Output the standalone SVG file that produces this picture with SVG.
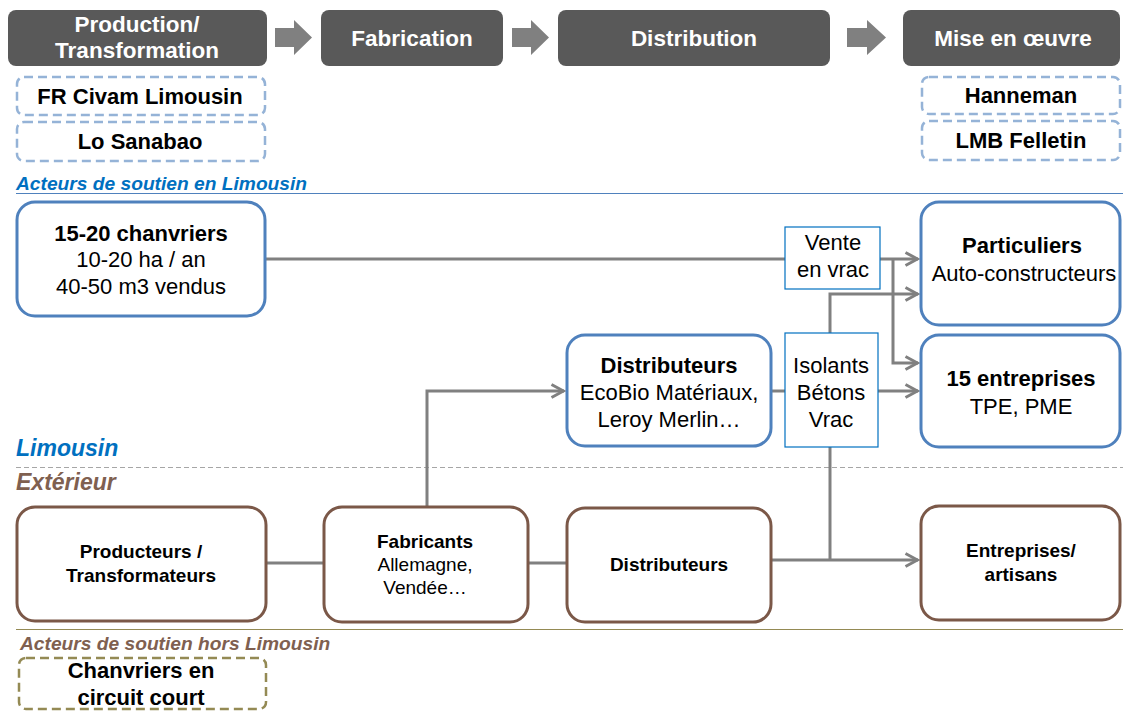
<svg xmlns="http://www.w3.org/2000/svg" width="1123" height="711" viewBox="0 0 1123 711">
<style>
text{font-family:"Liberation Sans",Arial,sans-serif;text-anchor:middle}
.hdr rect{fill:#595959}
.hdr text{fill:#fff;font-weight:bold;font-size:22.5px}
.harrow{fill:#808080}
.sup rect{fill:#fff;stroke:#95b3d7;stroke-width:2.5;stroke-dasharray:9 5}
.sup text{font-weight:bold;font-size:22px;fill:#000}
.lim rect{fill:#fff;stroke:#4f81bd;stroke-width:3}
.ext rect{fill:#fff;stroke:#7b5848;stroke-width:3}
.lbl rect{fill:#fff;stroke:#0070c0;stroke-width:1.2}
.t19{font-size:22px;fill:#000}
.b19{font-size:22px;font-weight:bold;fill:#000}
.t16{font-size:19px;fill:#000}
.b16{font-size:19px;font-weight:bold;fill:#000}
.conn path{fill:none;stroke:#808080;stroke-width:3}
.sec{font-style:italic;font-weight:bold;text-anchor:start}
</style>
<defs>
<marker id="arr" viewBox="0 0 16 16" refX="14.5" refY="8" markerWidth="16" markerHeight="16" markerUnits="userSpaceOnUse" orient="auto">
<path d="M2,1.5 L14,8 L2,14.5" fill="none" stroke="#808080" stroke-width="3"/>
</marker>
</defs>

<!-- headers -->
<g id="h1" class="hdr"><rect x="8" y="10" width="259" height="56" rx="8"/><text x="137" y="32">Production/</text><text x="137" y="58">Transformation</text></g>
<path class="harrow" d="M275,28 H294 V20 L312,37.5 L294,55 V47 H275 Z"/>
<g id="h2" class="hdr"><rect x="321" y="10" width="182" height="56" rx="8"/><text x="412" y="46">Fabrication</text></g>
<path class="harrow" d="M512,28 H531 V20 L549,37.5 L531,55 V47 H512 Z"/>
<g id="h3" class="hdr"><rect x="558" y="10" width="272" height="56" rx="8"/><text x="694" y="46">Distribution</text></g>
<path class="harrow" d="M847,28 H867 V20 L886,37.5 L867,55 V47 H847 Z"/>
<g id="h4" class="hdr"><rect x="903" y="10" width="217" height="56" rx="8"/><text x="1013" y="46">Mise en œuvre</text></g>

<!-- support actors -->
<g id="s1" class="sup"><rect x="17" y="77" width="248" height="38" rx="7"/><text x="140" y="104">FR Civam Limousin</text></g>
<g id="s2" class="sup"><rect x="17" y="122" width="248" height="39" rx="7"/><text x="140" y="149">Lo Sanabao</text></g>
<g id="s3" class="sup"><rect x="922" y="77" width="198" height="37" rx="7"/><text x="1021" y="103">Hanneman</text></g>
<g id="s4" class="sup"><rect x="922" y="121" width="198" height="39" rx="7"/><text x="1021" y="148">LMB Felletin</text></g>

<text class="sec" x="16" y="190" font-size="19.2" fill="#0070c0">Acteurs de soutien en Limousin</text>
<line x1="16" y1="193.5" x2="1123" y2="193.5" stroke="#4f81bd" stroke-width="1.2"/>

<text class="sec" x="16" y="456" font-size="23" fill="#0070c0">Limousin</text>
<line x1="16" y1="467.5" x2="1123" y2="467.5" stroke="#a6a6a6" stroke-width="1" stroke-dasharray="5 3"/>
<text class="sec" x="16" y="490" font-size="23" fill="#7f6050">Extérieur</text>

<line x1="16" y1="629.5" x2="1123" y2="629.5" stroke="#948a54" stroke-width="1.2"/>
<text class="sec" x="20" y="650" font-size="19.2" fill="#7f6050">Acteurs de soutien hors Limousin</text>

<!-- connectors -->
<g id="connectors" class="conn">
<path d="M265,259 H918" marker-end="url(#arr)"/>
<path d="M893,259 V363 H918" marker-end="url(#arr)"/>
<path d="M830,333 V294 H918" marker-end="url(#arr)"/>
<path d="M771,391 H785"/>
<path d="M878,391 H918" marker-end="url(#arr)"/>
<path d="M830,447 V560"/>
<path d="M427,507 V391 H564" marker-end="url(#arr)"/>
<path d="M266,563 H323"/>
<path d="M528,563 H567"/>
<path d="M771,560 H918" marker-end="url(#arr)"/>
</g>

<!-- label boxes -->
<g id="l1" class="lbl"><rect x="785" y="227" width="95" height="62"/><text class="t19" x="833" y="250">Vente</text><text class="t19" x="833" y="277">en vrac</text></g>
<g id="l2" class="lbl"><rect x="785" y="333" width="93" height="114"/><text class="t19" x="831" y="373">Isolants</text><text class="t19" x="831" y="400">Bétons</text><text class="t19" x="831" y="427">Vrac</text></g>

<!-- Limousin nodes -->
<g id="n1" class="lim"><rect x="17" y="202" width="248" height="114" rx="18"/><text class="b19" x="141" y="241">15-20 chanvriers</text><text class="t19" x="141" y="267">10-20 ha / an</text><text class="t19" x="141" y="294">40-50 m3 vendus</text></g>
<g id="n2" class="lim"><rect x="921" y="202" width="199" height="123" rx="18"/><text class="b19" x="1022" y="253">Particuliers</text><text class="t19" x="1024" y="281">Auto-constructeurs</text></g>
<g id="n3" class="lim"><rect x="567" y="335" width="204" height="111" rx="18"/><text class="b19" x="669" y="373">Distributeurs</text><text class="t19" x="669" y="400">EcoBio Matériaux,</text><text class="t19" x="669" y="427">Leroy Merlin…</text></g>
<g id="n4" class="lim"><rect x="921" y="335" width="199" height="112" rx="18"/><text class="b19" x="1021" y="386">15 entreprises</text><text class="t19" x="1021" y="414">TPE, PME</text></g>

<!-- external nodes -->
<g id="e1" class="ext"><rect x="17" y="507" width="249" height="114" rx="18"/><text class="b16" x="141" y="558">Producteurs /</text><text class="b16" x="141" y="582">Transformateurs</text></g>
<g id="e2" class="ext"><rect x="324" y="507" width="204" height="115" rx="18"/><text class="b16" x="425" y="548">Fabricants</text><text class="t16" x="425" y="571">Allemagne,</text><text class="t16" x="425" y="594">Vendée…</text></g>
<g id="e3" class="ext"><rect x="567" y="508" width="204" height="114" rx="18"/><text class="b16" x="669" y="571">Distributeurs</text></g>
<g id="e4" class="ext"><rect x="921" y="506" width="199" height="114" rx="18"/><text class="b16" x="1021" y="557">Entreprises/</text><text class="b16" x="1021" y="581">artisans</text></g>

<g id="s5"><rect x="19" y="658" width="247" height="51" rx="7" fill="#fff" stroke="#948a54" stroke-width="2.5" stroke-dasharray="9 5"/><text class="b19" x="141" y="678">Chanvriers en</text><text class="b19" x="141" y="705">circuit court</text></g>
</svg>
